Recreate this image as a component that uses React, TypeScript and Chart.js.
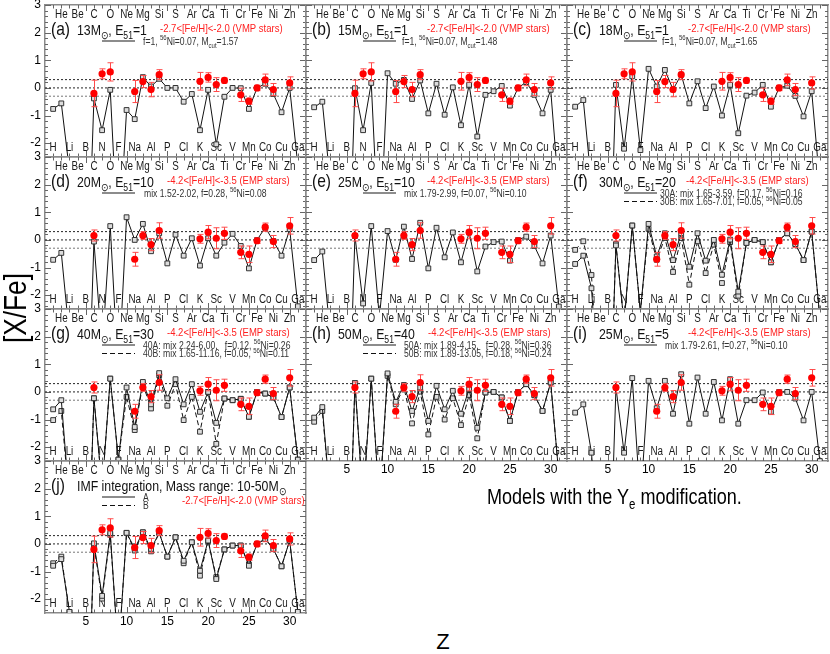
import React, { useEffect, useRef } from 'react';
import { Chart, registerables } from 'chart.js';

Chart.register(...registerables);

const FONT = "'Liberation Sans', Arial, Helvetica, sans-serif";
const SX = 0.82; // horizontal text compression of the original figure

// ---------- axis data ----------
const Z_VALUES = [1, 2, 3, 4, 5, 6, 7, 8, 9, 10, 11, 12, 13, 14, 15, 16, 17, 18, 19, 20, 21, 22, 23, 24, 25, 26, 27, 28, 29, 30, 31];
const ELEMENTS = ['H', 'He', 'Li', 'Be', 'B', 'C', 'N', 'O', 'F', 'Ne', 'Na', 'Mg', 'Al', 'Si', 'P', 'S', 'Cl', 'Ar', 'K', 'Ca', 'Sc', 'Ti', 'V', 'Cr', 'Mn', 'Fe', 'Co', 'Ni', 'Cu', 'Zn', 'Ga'];
const X_TICK_LABELS = [5, 10, 15, 20, 25, 30];
const Y_TICK_LABELS = [-2, -1, 0, 1, 2, 3];
const REF_LEVELS = [0.3, 0, -0.3];
const X_RANGE = [0, 32];
const Y_RANGE = [-2.5, 3];

// ---------- observations ----------
const VMP_Z = [6, 7, 8, 11, 12, 13, 14, 19, 20, 21, 22, 24, 25, 26, 27, 28, 30];
const VMP_VAL = [-0.2, 0.51, 0.58, -0.13, 0.23, -0.06, 0.48, 0.24, 0.38, 0.12, 0.27, -0.25, -0.48, 0.0, 0.29, -0.06, 0.18];
const VMP_ERR = [0.48, 0.18, 0.33, 0.4, 0.22, 0.26, 0.18, 0.32, 0.17, 0.25, 0.09, 0.24, 0.11, 0.1, 0.21, 0.22, 0.22];

const EMP_Z = [6, 11, 12, 13, 14, 19, 20, 21, 22, 24, 25, 26, 27, 28, 30];
const EMP_VAL = [0.16, -0.7, 0.16, -0.17, 0.34, 0.04, 0.28, 0.06, 0.24, -0.45, -0.52, -0.03, 0.46, -0.06, 0.51];
const EMP_ERR = [0.2, 0.25, 0.14, 0.22, 0.28, 0.16, 0.24, 0.38, 0.22, 0.23, 0.3, 0.1, 0.15, 0.22, 0.3];

// ---------- models (Z = 1..31) ----------
const M13 = [-0.76, -0.56, -3.0, -6, -9, -0.38, -1.53, -0.07, -6, -0.8, -1.13, 0.39, 0.05, 0.33, 0.0, 0.0, -0.5, -0.22, -1.53, -0.07, -2.04, -0.32, 0.0, -0.01, -0.76, 0, 0.15, -0.22, -0.88, 0.0, -2.8];
const M15 = [-0.7, -0.5, -3.5, -6, -9, -0.01, -1.53, 0.18, -6, 0.53, 0.15, 0.29, -0.4, 0.27, -0.92, 0.15, -0.97, 0.02, -1.35, 0.11, -1.76, -0.25, -0.12, 0.07, -0.64, 0, 0.21, -0.25, -0.92, -0.07, -3.8];
const M18 = [-0.68, -0.44, -3.5, -6, -9, 0.11, -2.2, 0.42, -2.25, 0.69, 0.05, 0.65, -0.06, 0.48, -0.56, 0.24, -0.73, 0.05, -1.0, 0.11, -1.64, -0.28, -0.17, 0.11, -0.68, 0, 0.08, -0.29, -1.03, -0.12, -3.5];
const M20 = [-0.72, -0.47, -3.5, -6, -9, -0.06, -4, 0.5, -5, 0.82, 0.0, 0.58, -0.41, 0.24, -0.85, 0.19, -0.57, 0.06, -0.93, 0.06, -0.57, -0.1, 0.22, -0.22, -1.03, 0, 0.45, -0.04, -0.57, 0.39, -2.4];
const M25 = [-0.73, -0.42, -3.5, -6, -9, 0.14, -2.3, 0.5, -2.8, 0.32, -0.72, 0.48, -0.69, 0.62, -1.03, 0.44, -0.63, 0.27, -0.81, 0.27, -1.14, -0.24, -0.08, -0.06, -0.75, 0, 0.12, -0.22, -0.85, 0.16, -2.41];
const M30A = [-0.87, -0.57, -1.75, -6, -9, -0.2, -3, 0.52, -2.6, 0.58, -0.6, 0.24, -0.73, 0.24, -0.97, 0.24, -0.75, 0.0, -1.26, 0.01, -1.87, -0.11, 0.0, -0.08, -0.81, 0, 0.24, -0.15, -0.73, 0.3, -2.8];
const M30B = [-0.36, -0.05, -1.27, -6, -9, -0.15, -3, 0.52, -2.6, 0.4, -0.72, 0.07, -1.16, 0.07, -1.62, -0.05, -1.2, -0.17, -1.56, -0.08, -2.02, -0.11, 0.0, -0.08, -0.81, 0, 0.24, -0.15, -0.73, 0.3, -2.8];
const M40A = [-0.63, -0.3, -4, -6, -9, -0.23, -3.5, 0.48, -2.45, 0.16, -1.27, 0.36, -0.45, 0.68, -0.23, 0.46, -0.45, 0.28, -0.72, 0.0, -1.12, -0.24, -0.3, -0.25, -0.9, 0, -0.06, -0.2, -0.91, 0.16, -2.45];
const M40B = [-1.02, -0.69, -4, -6, -9, -0.23, -3.5, 0.48, -2.45, -0.18, -1.38, 0.28, -0.6, 0.6, -0.5, 0.28, -1.02, -0.18, -1.44, 0.0, -1.88, -0.24, -0.3, -0.25, -0.9, 0, -0.06, -0.2, -0.91, 0.16, -2.45];
const M50A = [-0.93, -0.55, -4, -6, -9, 0.32, -4, 0.48, -4, 0.67, -0.36, 0.25, -0.69, 0.16, -1.05, 0.22, -0.63, 0.04, -0.79, 0.1, -1.3, -0.02, 0.0, -0.2, -1.05, 0, 0.28, -0.12, -0.69, 0.34, -3];
const M50B = [-1.08, -0.69, -4, -6, -9, 0.32, -4, 0.48, -4, 0.58, -0.45, 0.16, -1.14, 0.01, -1.54, -0.18, -1.0, -0.23, -1.2, -0.11, -1.68, -0.02, 0.0, -0.2, -1.05, 0, 0.28, -0.12, -0.69, 0.34, -3];
const M25E5 = [-0.75, -0.45, -2.2, -6, -9, 0.16, -2.2, 0.5, -4, 0.4, -0.59, 0.4, -0.79, 0.64, -1.15, 0.52, -0.79, 0.36, -1.03, 0.46, -1.15, -0.3, -0.3, -0.02, -0.72, 0, 0.0, -0.24, -1.03, 0.0, -2.5];
const IMF_A = [-0.79, -0.55, -2.46, -6, -9, 0.02, -1.88, 0.39, -4, 0.4, -0.16, 0.42, -0.18, 0.4, -0.46, 0.24, -0.61, 0.06, -0.97, 0.12, -1.27, -0.2, -0.06, -0.06, -0.79, 0, 0.18, -0.18, -0.81, 0.12, -2.46];
const IMF_B = [-0.7, -0.46, -2.46, -6, -9, -0.06, -1.98, 0.33, -4, 0.4, -0.24, 0.42, -0.27, 0.4, -0.46, 0.24, -0.7, 0.06, -1.15, 0.12, -1.2, -0.2, -0.06, -0.06, -0.74, 0, 0.18, -0.18, -0.81, 0.12, -2.46];

// ---------- layout ----------
const COL_LEFT = [45, 306, 567];
const ROW_TOP = [5, 157, 309, 461];
const PW = 261;
const PH = 152;
const PAD_L = 45, PAD_R = 6, PAD_T = 12, PAD_B = 22;

const VMP_TEXT = '-2.7<[Fe/H]<-2.0 (VMP stars)';
const EMP_TEXT = '-4.2<[Fe/H]<-3.5 (EMP stars)';

const PANELS = [
  { key: 'a', col: 0, row: 0, tag: '(a)', title: '13M_{⊙}, E_{51}=1', obs: 'VMP', models: [M13], legend: ['f=1, ^{56}Ni=0.07, M_{cut}=1.57'], redX: 115, redY: 27, legX: 98 },
  { key: 'b', col: 1, row: 0, tag: '(b)', title: '15M_{⊙}, E_{51}=1', obs: 'VMP', models: [M15], legend: ['f=1, ^{56}Ni=0.07, M_{cut}=1.48'], redX: 121, redY: 27, legX: 96 },
  { key: 'c', col: 2, row: 0, tag: '(c)', title: '18M_{⊙}, E_{51}=1', obs: 'VMP', models: [M18], legend: ['f=1, ^{56}Ni=0.07, M_{cut}=1.65'], redX: 121, redY: 27, legX: 95 },
  { key: 'd', col: 0, row: 1, tag: '(d)', title: '20M_{⊙}, E_{51}=10', obs: 'EMP', models: [M20], legend: ['mix 1.52-2.02, f=0.28, ^{56}Ni=0.08'], redX: 122, redY: 27, legX: 99 },
  { key: 'e', col: 1, row: 1, tag: '(e)', title: '25M_{⊙}, E_{51}=10', obs: 'EMP', models: [M25], legend: ['mix 1.79-2.99, f=0.07, ^{56}Ni=0.10'], redX: 121, redY: 27, legX: 98 },
  { key: 'f', col: 2, row: 1, tag: '(f)', title: '30M_{⊙}, E_{51}=20', obs: 'EMP', models: [M30A, M30B], legend: ['30A: mix 1.65-3.59, f=0.17, ^{56}Ni=0.16', '30B: mix 1.65-7.01, f=0.05, ^{56}Ni=0.05'], redX: 119, redY: 27, legX: 93 },
  { key: 'g', col: 0, row: 2, tag: '(g)', title: '40M_{⊙}, E_{51}=30', obs: 'EMP', models: [M40A, M40B], legend: ['40A: mix 2.24-6.00,   f=0.12, ^{56}Ni=0.26', '40B: mix 1.65-11.16, f=0.05, ^{56}Ni=0.11'], redX: 122, redY: 27, legX: 98 },
  { key: 'h', col: 1, row: 2, tag: '(h)', title: '50M_{⊙}, E_{51}=40', obs: 'EMP', models: [M50A, M50B], legend: ['50A: mix 1.89-4.15,   f=0.28, ^{56}Ni=0.36', '50B: mix 1.89-13.05, f=0.18, ^{56}Ni=0.24'], redX: 122, redY: 27, legX: 98 },
  { key: 'i', col: 2, row: 2, tag: '(i)', title: '25M_{⊙}, E_{51}=5', obs: 'EMP', models: [M25E5], legend: ['mix 1.79-2.61, f=0.27, ^{56}Ni=0.10'], redX: 121, redY: 27, legX: 98 },
  { key: 'j', col: 0, row: 3, tag: '(j)', title: 'IMF integration, Mass range: 10-50M_{⊙}', obs: 'VMP', models: [IMF_A, IMF_B], legend: ['A', 'B'], redX: 137, redY: 43, legX: 98 },
];

function drawRich(ctx: CanvasRenderingContext2D, s: string, x: number, y: number, size: number, color: string) {
  const parts = s.split(/(\^\{[^}]*\}|_\{[^}]*\})/).filter((q) => q.length > 0);
  ctx.save();
  ctx.translate(x, y);
  ctx.scale(SX, 1);
  let cx = 0;
  ctx.fillStyle = color;
  ctx.textBaseline = 'alphabetic';
  ctx.textAlign = 'left';
  for (const part of parts) {
    let t = part;
    let fs = size;
    let dy = 0;
    if (part.startsWith('^{')) {
      t = part.slice(2, -1); fs = size * 0.7; dy = -size * 0.42;
    } else if (part.startsWith('_{')) {
      t = part.slice(2, -1); fs = size * 0.7; dy = size * 0.32;
    }
    ctx.font = `${fs}px ${FONT}`;
    ctx.fillText(t, cx, dy);
    cx += ctx.measureText(t).width;
  }
  ctx.restore();
}

function Panel({ p }: { p: any }) {
  const ref = useRef<HTMLCanvasElement>(null);
  const showX = p.row === 3 || (p.row === 2 && p.col > 0);
  const showY = p.col === 0;
  const cw = PW + PAD_L + PAD_R;
  const ch = PH + PAD_T + PAD_B;

  useEffect(() => {
    const canvas = ref.current;
    if (!canvas) return;
    const obsZ = p.obs === 'VMP' ? VMP_Z : EMP_Z;
    const obsV = p.obs === 'VMP' ? VMP_VAL : EMP_VAL;
    const obsE = p.obs === 'VMP' ? VMP_ERR : EMP_ERR;

    const datasets: any[] = [];
    datasets.push({
      data: obsZ.map((z, i) => ({ x: z, y: obsV[i] })),
      showLine: false,
      pointStyle: 'circle',
      pointRadius: 3.6,
      pointBackgroundColor: '#ff0000',
      pointBorderColor: '#ff0000',
      pointBorderWidth: 0,
      borderWidth: 0,
      order: 0,
    });
    p.models.forEach((m: number[], k: number) => {
      datasets.push({
        data: Z_VALUES.map((z, i) => ({ x: z, y: m[i] })),
        showLine: true,
        borderColor: '#111',
        borderWidth: 1,
        borderDash: k === 1 ? [5, 3] : [],
        pointStyle: 'rect',
        pointRadius: 3.4,
        pointBackgroundColor: '#dcdcdc',
        pointBorderColor: '#333',
        pointBorderWidth: 1,
        tension: 0,
        order: 1 + k,
      });
    });
    REF_LEVELS.forEach((lv, k) => {
      datasets.push({
        data: [{ x: X_RANGE[0], y: lv }, { x: X_RANGE[1], y: lv }],
        showLine: true,
        borderColor: k === 2 ? '#777' : '#222',
        borderWidth: 1,
        borderDash: [2, 2],
        pointRadius: 0,
        order: 10 + k,
      });
    });

    const decor = {
      id: 'decor' + p.key,
      beforeDatasetsDraw(chart: any) {
        const ctx = chart.ctx as CanvasRenderingContext2D;
        const xs = chart.scales.x;
        const ys = chart.scales.y;
        const { left, right, top, bottom } = chart.chartArea;
        ctx.save();
        // inner tick marks
        ctx.strokeStyle = '#666';
        ctx.lineWidth = 1;
        ctx.beginPath();
        for (let z = 1; z <= 31; z++) {
          const x = Math.round(xs.getPixelForValue(z)) + 0.5;
          const len = z % 5 === 0 ? 6 : 3.5;
          ctx.moveTo(x, bottom); ctx.lineTo(x, bottom - len);
          ctx.moveTo(x, top); ctx.lineTo(x, top + len);
        }
        for (let k = -12; k <= 15; k++) {
          const v = k * 0.2;
          if (v < Y_RANGE[0] || v > Y_RANGE[1]) continue;
          const y = Math.round(ys.getPixelForValue(v)) + 0.5;
          const len = k % 5 === 0 ? 6 : 3;
          ctx.moveTo(left, y); ctx.lineTo(left + len, y);
          ctx.moveTo(right, y); ctx.lineTo(right - len, y);
        }
        ctx.stroke();
        // element symbols
        ctx.fillStyle = '#1a1a1a';
        ctx.font = `12px ${FONT}`;
        ctx.textAlign = 'center';
        ctx.textBaseline = 'middle';
        ELEMENTS.forEach((el, i) => {
          const z = Z_VALUES[i];
          const x = xs.getPixelForValue(z);
          const y = ys.getPixelForValue(z % 2 === 0 ? 2.65 : -2.18);
          ctx.save();
          ctx.translate(x, y);
          ctx.scale(SX, 1);
          ctx.fillText(el, 0, 0);
          ctx.restore();
        });
        ctx.restore();
      },
      beforeDatasetDraw(chart: any, args: any) {
        if (args.index !== 0) return;
        const ctx = chart.ctx as CanvasRenderingContext2D;
        const xs = chart.scales.x;
        const ys = chart.scales.y;
        ctx.save();
        ctx.strokeStyle = '#ff4a4a';
        ctx.lineWidth = 1;
        ctx.beginPath();
        obsZ.forEach((z, i) => {
          const x = Math.round(xs.getPixelForValue(z)) + 0.5;
          const y1 = ys.getPixelForValue(obsV[i] + obsE[i]);
          const y2 = ys.getPixelForValue(obsV[i] - obsE[i]);
          ctx.moveTo(x, y1); ctx.lineTo(x, y2);
          ctx.moveTo(x - 3, y1); ctx.lineTo(x + 3, y1);
          ctx.moveTo(x - 3, y2); ctx.lineTo(x + 3, y2);
        });
        ctx.stroke();
        ctx.restore();
      },
      afterDraw(chart: any) {
        const ctx = chart.ctx as CanvasRenderingContext2D;
        const { left, top } = chart.chartArea;
        ctx.save();
        drawRich(ctx, p.tag, left + 6, top + 30, 19, '#111');
        drawRich(ctx, p.title, left + 32, top + 29.5, 15, '#111');
        drawRich(ctx, p.obs === 'VMP' ? VMP_TEXT : EMP_TEXT, left + p.redX, top + p.redY, 11.6, '#ff2020');
        p.legend.forEach((txt: string, k: number) => {
          const ly = top + 36 + k * 8.5;
          ctx.beginPath();
          ctx.strokeStyle = k === 0 ? '#666' : '#111';
          ctx.lineWidth = k === 0 ? 1.6 : 1;
          ctx.setLineDash(k === 0 ? [] : [5, 3]);
          ctx.moveTo(left + 57, ly);
          ctx.lineTo(left + 90, ly);
          ctx.stroke();
          ctx.setLineDash([]);
          drawRich(ctx, txt, left + p.legX, ly + 3.5, 10.5, '#333');
        });
        ctx.restore();
      },
    };

    const borderOpts = { display: true, color: '#8a8a8a', width: 1.5 };
    const gridOpts = { display: true, drawOnChartArea: false, drawTicks: false, color: 'rgba(0,0,0,0)' };

    const chart = new Chart(canvas, {
      type: 'line',
      data: { datasets },
      options: {
        responsive: false,
        maintainAspectRatio: false,
        animation: false,
        devicePixelRatio: 1,
        events: [],
        layout: { padding: 0 },
        plugins: { legend: { display: false }, tooltip: { enabled: false } },
        scales: {
          x: {
            type: 'linear', position: 'bottom', min: X_RANGE[0], max: X_RANGE[1],
            grid: gridOpts, border: borderOpts,
            ticks: {
              display: showX, stepSize: 5, includeBounds: false, autoSkip: false, maxRotation: 0,
              padding: 1, color: '#000', font: { family: FONT, size: 12 },
              callback: (v: any) => (X_TICK_LABELS.includes(Number(v)) ? String(v) : ''),
            },
            afterFit: (s: any) => { s.height = PAD_B; },
          },
          x2: {
            type: 'linear', position: 'top', min: X_RANGE[0], max: X_RANGE[1],
            grid: gridOpts, border: borderOpts, ticks: { display: false },
            afterFit: (s: any) => { s.height = PAD_T; },
          },
          y: {
            type: 'linear', position: 'left', min: Y_RANGE[0], max: Y_RANGE[1],
            grid: gridOpts, border: borderOpts,
            ticks: {
              display: showY, stepSize: 1, includeBounds: false, padding: 4, color: '#000',
              font: { family: FONT, size: 12 },
              callback: (v: any) => (Y_TICK_LABELS.includes(Number(v)) ? String(v) : ''),
            },
            afterFit: (s: any) => { s.width = PAD_L; },
          },
          y2: {
            type: 'linear', position: 'right', min: Y_RANGE[0], max: Y_RANGE[1],
            grid: gridOpts, border: borderOpts, ticks: { display: false },
            afterFit: (s: any) => { s.width = PAD_R; },
          },
        },
      } as any,
      plugins: [decor],
    });
    return () => chart.destroy();
  }, []);

  return (
    <canvas
      ref={ref}
      width={cw}
      height={ch}
      style={{
        position: 'absolute',
        left: COL_LEFT[p.col] - PAD_L,
        top: ROW_TOP[p.row] - PAD_T,
        width: cw,
        height: ch,
      }}
    />
  );
}

export default function App() {
  return (
    <div style={{ position: 'absolute', left: 0, top: 0, width: 830, height: 654, background: '#fff', overflow: 'hidden', fontFamily: FONT, color: '#000' }}>
      {PANELS.map((p) => (
        <Panel key={p.key} p={p} />
      ))}
      <div style={{ position: 'absolute', left: 15, top: 308, transform: 'translate(-50%,-50%) rotate(-90deg) scaleX(0.82)', fontSize: 32, whiteSpace: 'nowrap', lineHeight: 1 }}>[X/Fe]</div>
      <div style={{ position: 'absolute', left: 443, top: 642, transform: 'translate(-50%,-50%)', fontSize: 22, lineHeight: 1 }}>Z</div>
      <div style={{ position: 'absolute', left: 487, top: 497, transform: 'translateY(-50%) scaleX(0.82)', transformOrigin: 'left center', fontSize: 22, whiteSpace: 'nowrap', lineHeight: 1 }}>
        Models with the Y<span style={{ fontSize: 14, position: 'relative', top: 5 }}>e</span> modification.
      </div>
    </div>
  );
}
